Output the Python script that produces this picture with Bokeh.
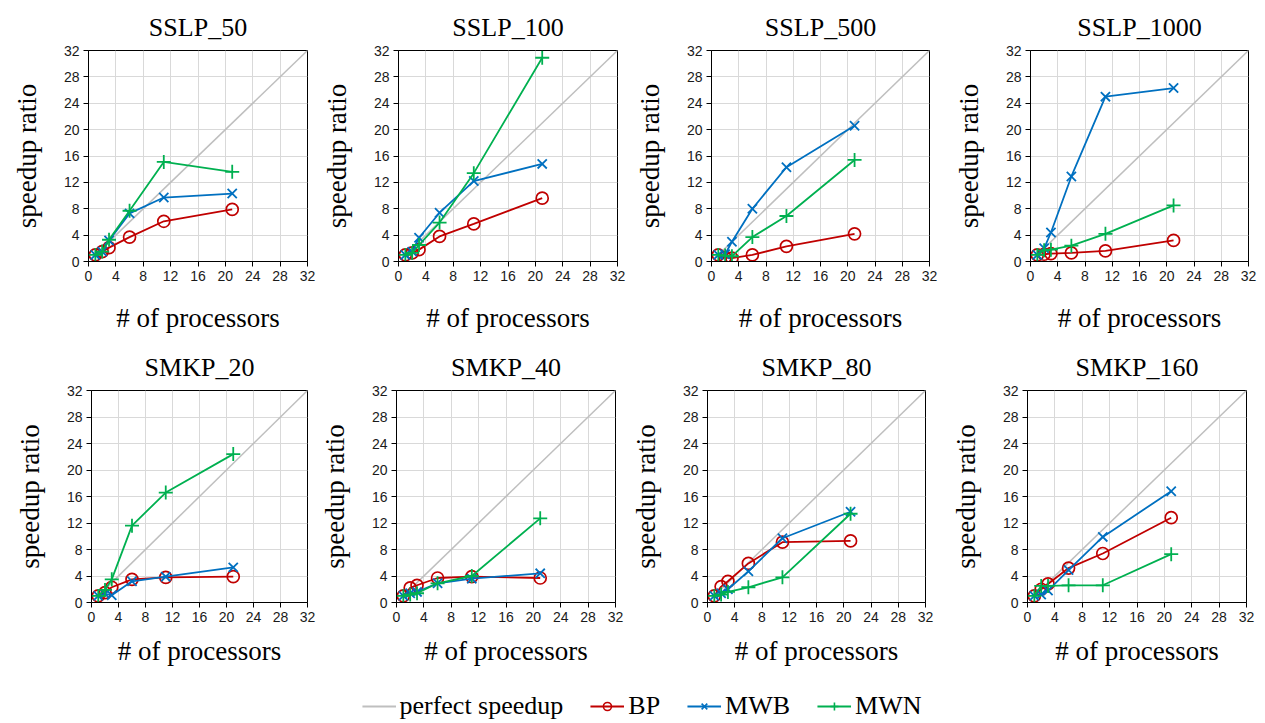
from bokeh.plotting import figure
from bokeh.layouts import column, row
from bokeh.models import Range1d, FixedTicker, Legend, LegendItem
from bokeh.embed import file_html
from bokeh.resources import INLINE

# ---------------- data ----------------
procs = [1, 2, 3, 6, 11, 21]
perfect_x = [1, 32]
perfect_y = [1, 32]
ticks = [0, 4, 8, 12, 16, 20, 24, 28, 32]

titles = ["SSLP_50", "SSLP_100", "SSLP_500", "SSLP_1000",
          "SMKP_20", "SMKP_40", "SMKP_80", "SMKP_160"]

bp_sslp_50 = [1.0, 1.5, 2.1, 3.7, 6.1, 7.9]
mwb_sslp_50 = [1.0, 1.5, 3.2, 7.3, 9.7, 10.3]
mwn_sslp_50 = [1.0, 1.5, 3.3, 7.7, 15.1, 13.6]

bp_sslp_100 = [1.0, 1.3, 1.8, 3.8, 5.7, 9.6]
mwb_sslp_100 = [1.0, 1.5, 3.6, 7.4, 12.2, 14.8]
mwn_sslp_100 = [1.0, 1.3, 2.5, 5.9, 13.4, 30.9]

bp_sslp_500 = [1.0, 0.6, 0.5, 1.0, 2.3, 4.2]
mwb_sslp_500 = [1.0, 1.1, 3.0, 8.0, 14.3, 20.6]
mwn_sslp_500 = [1.0, 0.9, 0.8, 3.7, 6.9, 15.4]

bp_sslp_1000 = [1.0, 1.1, 1.2, 1.3, 1.6, 3.2]
mwb_sslp_1000 = [1.0, 2.0, 4.4, 12.9, 25.0, 26.3]
mwn_sslp_1000 = [1.0, 1.7, 1.8, 2.4, 4.2, 8.5]

bp_smkp_20 = [1.0, 1.5, 2.3, 3.5, 3.8, 3.9]
mwb_smkp_20 = [1.0, 1.3, 1.1, 3.2, 3.9, 5.3]
mwn_smkp_20 = [1.0, 1.9, 3.5, 11.6, 16.6, 22.4]

bp_smkp_40 = [1.0, 2.2, 2.6, 3.7, 3.9, 3.7]
mwb_smkp_40 = [1.0, 1.4, 1.6, 2.9, 3.6, 4.4]
mwn_smkp_40 = [1.0, 1.2, 1.4, 2.9, 4.0, 12.7]

bp_smkp_80 = [1.0, 2.4, 3.2, 5.9, 9.1, 9.3]
mwb_smkp_80 = [1.0, 1.4, 2.0, 4.7, 9.7, 13.7]
mwn_smkp_80 = [1.0, 1.2, 1.6, 2.3, 3.8, 13.4]

bp_smkp_160 = [1.0, 2.0, 2.8, 5.2, 7.4, 12.8]
mwb_smkp_160 = [1.0, 1.2, 1.8, 4.9, 9.9, 16.8]
mwn_smkp_160 = [1.0, 2.5, 2.5, 2.6, 2.6, 7.3]

bp_all = [bp_sslp_50, bp_sslp_100, bp_sslp_500, bp_sslp_1000,
          bp_smkp_20, bp_smkp_40, bp_smkp_80, bp_smkp_160]
mwb_all = [mwb_sslp_50, mwb_sslp_100, mwb_sslp_500, mwb_sslp_1000,
           mwb_smkp_20, mwb_smkp_40, mwb_smkp_80, mwb_smkp_160]
mwn_all = [mwn_sslp_50, mwn_sslp_100, mwn_sslp_500, mwn_sslp_1000,
           mwn_smkp_20, mwn_smkp_40, mwn_smkp_80, mwn_smkp_160]

legend_labels = ["perfect speedup", "BP", "MWB", "MWN"]
legend_dummy = [-10]  # off-canvas point, only used so legend glyphs are drawn

# ---------------- style ----------------
GRAY = "#BFBFBF"
RED = "#C00000"
BLUE = "#0070C0"
GREEN = "#00B050"
SERIF = "Liberation Serif"
SANS = "Liberation Sans"

# (width, height, border_left, border_right, border_top, border_bottom, xlabel_standoff)
geoms = [
    (318, 342, 88, 11, 50, 81, 19),
    (313, 342, 80, 14, 50, 81, 19),
    (319, 342, 80, 21, 50, 81, 19),
    (307, 342, 80, 9, 50, 81, 19),
    (316, 330, 91, 9, 48, 70, 11),
    (311, 330, 80, 12, 48, 70, 11),
    (320, 330, 80, 22, 48, 70, 11),
    (310, 330, 80, 11, 48, 70, 11),
]


def make_panel(i):
    w, h, l, r, t, b, xs = geoms[i]
    p = figure(width=w, height=h, x_range=Range1d(0, 32), y_range=Range1d(0, 32),
               toolbar_location=None, output_backend="svg",
               min_border_left=l, min_border_right=r,
               min_border_top=t, min_border_bottom=b,
               title=titles[i])
    p.title.align = "center"
    p.title.text_font = SERIF
    p.title.text_font_size = "26px"
    p.title.text_font_style = "normal"
    p.title.text_color = "black"
    p.title.standoff = 17

    p.xaxis.ticker = FixedTicker(ticks=ticks)
    p.yaxis.ticker = FixedTicker(ticks=ticks)
    p.xaxis.axis_label = "# of processors"
    p.yaxis.axis_label = "speedup ratio"
    for ax in (p.xaxis, p.yaxis):
        ax.axis_label_text_font = SERIF
        ax.axis_label_text_font_size = "27px"
        ax.axis_label_text_font_style = "normal"
        ax.axis_label_text_color = "black"
        ax.major_label_text_font = SANS
        ax.major_label_text_font_size = "14px"
        ax.major_label_text_color = "#1a1a1a"
        ax.axis_line_color = "black"
        ax.major_tick_line_color = "black"
        ax.major_tick_out = 5
        ax.major_tick_in = 0
        ax.minor_tick_line_color = None
        ax.major_label_standoff = 4
    p.xaxis.axis_label_standoff = xs
    p.yaxis.axis_label_standoff = 19
    p.grid.grid_line_color = "#D9D9D9"
    p.grid.grid_line_width = 1
    p.outline_line_color = "black"
    p.outline_line_alpha = 1.0
    p.background_fill_color = "white"

    p.line(perfect_x, perfect_y, line_color=GRAY, line_width=1.5)

    p.line(procs, bp_all[i], line_color=RED, line_width=1.8)
    p.scatter(procs, bp_all[i], marker="circle", size=12, fill_color=None,
              line_color=RED, line_width=1.7)

    p.line(procs, mwb_all[i], line_color=BLUE, line_width=1.8)
    p.scatter(procs, mwb_all[i], marker="x", size=13, line_color=BLUE, line_width=1.8)

    p.line(procs, mwn_all[i], line_color=GREEN, line_width=1.8)
    p.scatter(procs, mwn_all[i], marker="cross", size=14, line_color=GREEN, line_width=1.8)
    return p


panels = [make_panel(i) for i in range(8)]

# ---------------- legend figure ----------------
lf = figure(width=1257, height=49, x_range=Range1d(0, 1), y_range=Range1d(0, 1),
            toolbar_location=None, output_backend="svg",
            min_border_left=26, min_border_right=0, min_border_top=0, min_border_bottom=0,
            outline_line_color=None)
lf.axis.visible = False
lf.grid.visible = False

r_perf = lf.line(legend_dummy, legend_dummy, line_color=GRAY, line_width=2)
r_bp_l = lf.line(legend_dummy, legend_dummy, line_color=RED, line_width=2)
r_bp_s = lf.scatter(legend_dummy, legend_dummy, marker="circle", size=9, fill_color=None,
                    line_color=RED, line_width=1.6)
r_mwb_l = lf.line(legend_dummy, legend_dummy, line_color=BLUE, line_width=2)
r_mwb_s = lf.scatter(legend_dummy, legend_dummy, marker="x", size=9, line_color=BLUE,
                     line_width=1.6)
r_mwn_l = lf.line(legend_dummy, legend_dummy, line_color=GREEN, line_width=2)
r_mwn_s = lf.scatter(legend_dummy, legend_dummy, marker="cross", size=11, line_color=GREEN,
                     line_width=1.6)

legend = Legend(items=[
    LegendItem(label=legend_labels[0], renderers=[r_perf]),
    LegendItem(label=legend_labels[1], renderers=[r_bp_l, r_bp_s]),
    LegendItem(label=legend_labels[2], renderers=[r_mwb_l, r_mwb_s]),
    LegendItem(label=legend_labels[3], renderers=[r_mwn_l, r_mwn_s]),
], orientation="horizontal", location="bottom_center",
    label_text_font=SERIF, label_text_font_size="26px", label_text_color="black",
    glyph_width=34, glyph_height=20, label_standoff=4, spacing=27,
    border_line_color=None, background_fill_alpha=0, padding=0, margin=0)
lf.add_layout(legend, "center")

layout = column(row(*panels[:4]), row(*panels[4:]), lf)

open("out.html", "w").write(file_html(layout, INLINE))
